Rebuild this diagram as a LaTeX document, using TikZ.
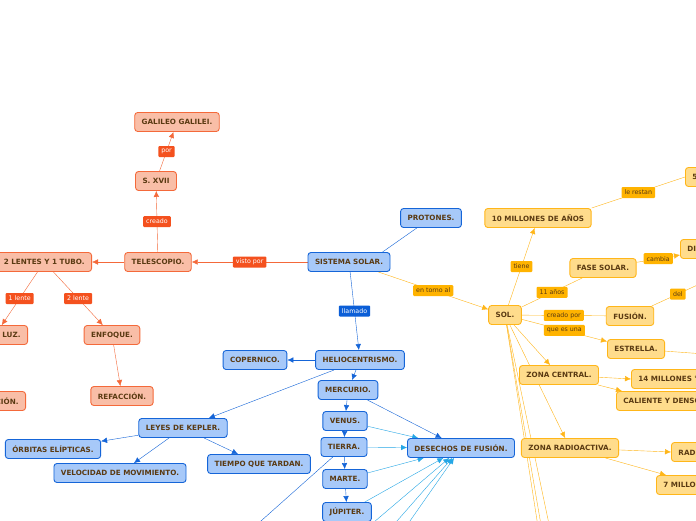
\documentclass[tikz,border=0pt]{standalone}
\usepackage{fontspec}
\setmainfont{DejaVu Sans}
\usetikzlibrary{arrows.meta, positioning, backgrounds}

\definecolor{ofill}{HTML}{F9BEA7}
\definecolor{oline}{HTML}{F4693A}
\definecolor{olab}{HTML}{F4511E}
\definecolor{bfill}{HTML}{A7C9F9}
\definecolor{bline}{HTML}{1565D8}
\definecolor{blab}{HTML}{0B5ED7}
\definecolor{cline}{HTML}{25A7E6}
\definecolor{yfill}{HTML}{FFDC8C}
\definecolor{yline}{HTML}{FFB619}
\definecolor{ylab}{HTML}{FFB300}
\definecolor{txt}{HTML}{5A3A12}

\tikzset{
  mapnode/.style={rounded corners=3pt, line width=0.9pt, minimum height=19pt,
    inner xsep=7pt, inner ysep=0pt, text=txt,
    font=\fontsize{7.2}{8}\selectfont\bfseries},
  onode/.style={mapnode, draw=oline, fill=ofill},
  bnode/.style={mapnode, draw=bline, fill=bfill},
  ynode/.style={mapnode, draw=yline, fill=yfill},
  lbl/.style={rounded corners=1pt, minimum height=11pt, inner xsep=3pt,
    inner ysep=0pt, font=\fontsize{6.3}{7}\selectfont},
  olbl/.style={lbl, fill=olab, text=white},
  blbl/.style={lbl, fill=blab, text=white},
  ylbl/.style={lbl, fill=ylab, text=txt},
}

\begin{document}
\begin{tikzpicture}[x=1pt, y=-1pt, >={Latex[length=6pt,width=5.5pt]}]
    \useasboundingbox (0,0) rectangle (696,520);

    % telescopio
    \node[onode] at (177,122) (galileo) {GALILEO GALILEI.};
    \node[onode] at (156,181) (sxvii) {S. XVII};
    \node[onode] at (158,262) (tele) {TELESCOPIO.};
    \node[onode, anchor=east] at (92,262) (lentes) {2 LENTES Y 1 TUBO.};
    \node[onode, anchor=east] at (28,335) (luz) {HAZ DE LUZ.};
    \node[onode] at (112,335) (enfoque) {ENFOQUE.};
    \node[onode, anchor=east] at (26,401) (ampl) {AMPLIACIÓN.};
    \node[onode] at (122,396) (refac) {REFACCIÓN.};

    % sistema solar
    \node[bnode] at (349,262) (sistema) {SISTEMA SOLAR.};
    \node[bnode] at (431,218) (protones) {PROTONES.};
    \node[bnode] at (360,360) (helio) {HELIOCENTRISMO.};
    \node[bnode] at (255,360) (copernico) {COPERNICO.};
    \node[bnode] at (348,390) (mercurio) {MERCURIO.};
    \node[bnode] at (345,421) (venus) {VENUS.};
    \node[bnode] at (344,447) (tierra) {TIERRA.};
    \node[bnode] at (345,479) (marte) {MARTE.};
    \node[bnode] at (347,512) (jupiter) {JÚPITER.};
    \node[bnode] at (461,448) (desechos) {DESECHOS DE FUSIÓN.};
    \node[bnode] at (183,428) (kepler) {LEYES DE KEPLER.};
    \node[bnode] at (53,449) (orbitas) {ÓRBITAS ELÍPTICAS.};
    \node[bnode] at (120,473) (velocidad) {VELOCIDAD DE MOVIMIENTO.};
    \node[bnode] at (259,464) (tiempo) {TIEMPO QUE TARDAN.};
    \coordinate (saturno) at (347,545);
    \coordinate (urano) at (347,578);
    \coordinate (neptuno) at (347,611);
    \coordinate (luna) at (225,553);

    % sol
    \node[ynode] at (505,315) (sol) {SOL.};
    \node[ynode] at (538,218) (mil10) {10 MILLONES DE AÑOS};
    \node[ynode, anchor=west] at (685,177) (mil5) {5 MIL MILLONES.};
    \node[ynode] at (603,268) (fase) {FASE SOLAR.};
    \node[ynode, anchor=west] at (680,249) (dif) {DIFERENTE.};
    \node[ynode] at (630,316) (fusion) {FUSIÓN.};
    \node[ynode] at (636,349) (estrella) {ESTRELLA.};
    \node[ynode] at (559,375) (central) {ZONA CENTRAL.};
    \node[ynode, anchor=west] at (631,379) (mil14) {14 MILLONES °C.};
    \node[ynode, anchor=west] at (616,401) (caliente) {CALIENTE Y DENSO.};
    \node[ynode] at (570,448) (radio) {ZONA RADIOACTIVA.};
    \node[ynode, anchor=west] at (671,452) (radiacion) {RADIACIÓN.};
    \node[ynode, anchor=west] at (656,485) (mil7) {7 MILLONES °C.};
    \coordinate (hidrogeno) at (704,282);
    \coordinate (galaxia) at (760,358);
    \coordinate (capa1) at (565,700);
    \coordinate (capa2) at (571,700);
    \coordinate (capa3) at (586,700);

    \begin{scope}[on background layer, line width=1.1pt]
    \fill[white] (0,0) rectangle (696,520);

    \draw[->, oline] (sistema) -- node[olbl] {visto por} (tele);
    \draw[->, oline] (tele) -- (lentes);
    \draw[->, oline] (tele) -- node[olbl] {creado} (sxvii);
    \draw[->, oline] (sxvii) -- node[olbl] {por} (galileo);
    \draw[->, oline] (lentes) -- node[olbl] {1 lente} (luz);
    \draw[->, oline] (lentes) -- node[olbl] {2 lente} (enfoque);
    \draw[->, oline] (enfoque) -- (refac);

    \draw[bline] ([xshift=-8pt]sistema.north east) -- (protones);
    \draw[->, bline] (sistema) -- node[blbl] {llamado} (helio);
    \draw[->, bline] (helio) -- (copernico);
    \draw[->, bline] (helio) -- (mercurio);
    \draw[->, bline] (helio) -- (kepler);
    \draw[->, bline] (kepler) -- (orbitas);
    \draw[->, bline] (kepler) -- (velocidad);
    \draw[->, bline] (kepler) -- (tiempo);
    \draw[->, bline] (mercurio) -- (venus);
    \draw[->, bline] (venus) -- (tierra);
    \draw[->, bline] (tierra) -- (marte);
    \draw[->, bline] (marte) -- (jupiter);
    \draw[bline] (tierra) -- (luna);
    \draw[->, bline] (mercurio) -- (desechos);
    \draw[->, cline] (venus) -- (desechos);
    \draw[->, cline] (tierra) -- (desechos);
    \draw[->, cline] (marte) -- (desechos);
    \draw[->, cline] (jupiter) -- (desechos);
    \draw[->, cline] (saturno) -- (desechos);
    \draw[->, cline] (urano) -- (desechos);
    \draw[->, cline] (neptuno) -- (desechos);

    \draw[->, yline] (sistema) -- node[ylbl] {en torno al} (sol);
    \draw[->, yline] (sol) -- node[ylbl] {tiene} (mil10);
    \draw[yline] (mil10.north east) -- node[ylbl] {le restan} (mil5.west);
    \draw[yline] (sol) -- node[ylbl] {11 años} (fase);
    \draw[->, yline] (fase) -- node[ylbl] {cambia} ([yshift=-6pt]dif.west);
    \draw[yline] (sol) -- node[ylbl] {creado por} (fusion);
    \draw[yline] (fusion) -- node[ylbl] {del} (hidrogeno);
    \draw[->, yline] (sol) -- node[ylbl] {que es una} (estrella);
    \draw[yline] (estrella) -- (galaxia);
    \draw[->, yline] (sol) -- (central);
    \draw[->, yline] (sol) -- (radio);
    \draw[yline] (sol) -- (capa1);
    \draw[yline] (sol) -- (capa2);
    \draw[yline] (sol) -- (capa3);
    \draw[->, yline] (central) -- (mil14.west);
    \draw[->, yline] (central) -- ([xshift=6pt]caliente.north west);
    \draw[->, yline] (radio) -- (radiacion.west);
    \draw[->, yline] (radio) -- ([xshift=10pt]mil7.north west);
    \end{scope}
\end{tikzpicture}
\end{document}
